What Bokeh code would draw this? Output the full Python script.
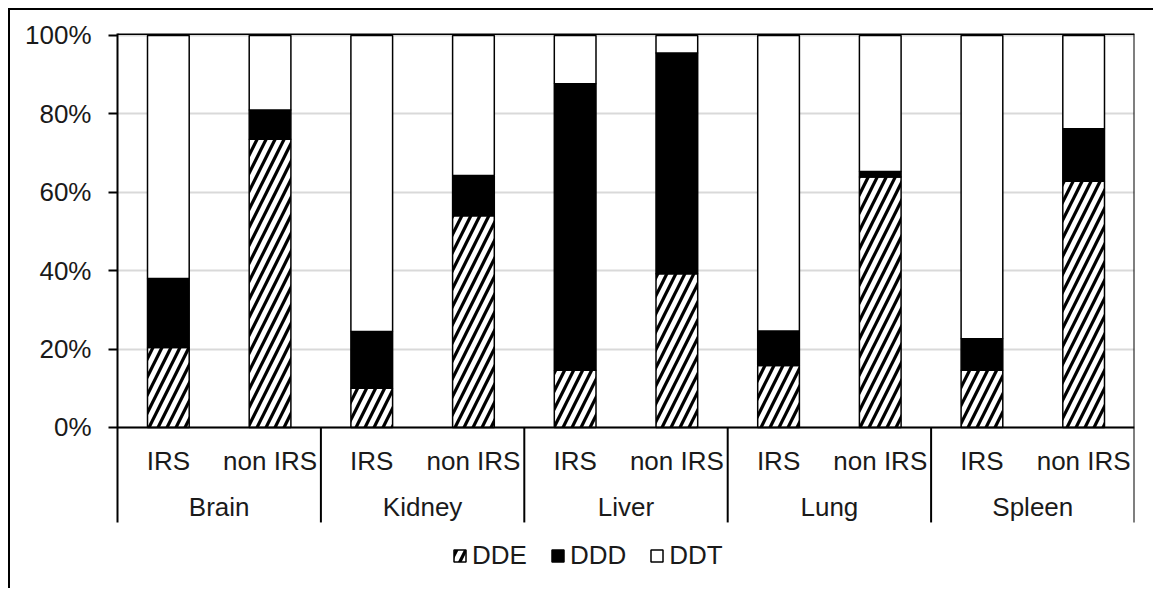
from bokeh.plotting import figure
from bokeh.models import (FactorRange, Range1d, FixedTicker, PrintfTickFormatter,
                          Span, Legend, LegendItem, ColumnDataSource)
from bokeh.core.properties import value
from bokeh.embed import file_html
from bokeh.resources import INLINE

# ---- data (percent of total) ----
organs = ["Brain", "Kidney", "Liver", "Lung", "Spleen"]
groups = ["IRS", "non IRS"]
DDE = [20.4, 73.5, 10.0, 54.0, 14.6, 39.2, 15.8, 63.9, 14.6, 62.8]
DDD = [17.6, 7.5, 14.5, 10.3, 73.1, 56.3, 8.8, 1.4, 8.0, 13.4]
DDT = [62.0, 19.0, 75.5, 35.7, 12.3, 4.5, 75.4, 34.7, 77.4, 23.8]
series = ["DDE", "DDD", "DDT"]
y_ticks = [0, 20, 40, 60, 80, 100]

factors = [(o, g) for o in organs for g in groups]
src = ColumnDataSource(dict(x=factors, DDE=DDE, DDD=DDD, DDT=DDT))

FONT = "Liberation Sans"
FS = "26px"
TXT = "#1a1a1a"

Y_TOP = 100.5
Y_AXIS_BOTTOM = -24.23   # bottom of the category-label band
Y_CANVAS_BOTTOM = -41.59  # bottom of the drawing area (legend band)

x_range = FactorRange(*factors, factor_padding=0, subgroup_padding=0,
                      group_padding=0, range_padding=0)
y_range = Range1d(Y_CANVAS_BOTTOM, Y_TOP)

p = figure(width=1145, height=580, x_range=x_range, y_range=y_range,
           output_backend="svg", toolbar_location=None,
           min_border_left=107, min_border_right=21,
           min_border_top=23, min_border_bottom=0)
p.styles = {"margin-left": "8px", "margin-top": "8px",
            "border-left": "2px solid black", "border-top": "2px solid black"}
p.outline_line_color = None
p.background_fill_color = "white"
p.border_fill_color = "white"

# axes
p.xaxis.visible = False
p.xgrid.visible = False
yax = p.yaxis[0]
yax.bounds = (Y_AXIS_BOTTOM, Y_TOP)
yax.ticker = FixedTicker(ticks=y_ticks)
yax.formatter = PrintfTickFormatter(format="%d%%")
yax.major_label_text_font = FONT
yax.major_label_text_font_size = FS
yax.major_label_text_color = TXT
yax.major_label_standoff = 17
yax.major_tick_out = 9
yax.major_tick_in = 0
yax.minor_tick_line_color = None
yax.axis_line_width = 2
yax.major_tick_line_width = 2
yax.axis_line_color = "black"
yax.major_tick_line_color = "black"
p.ygrid.ticker = FixedTicker(ticks=y_ticks)
p.ygrid.grid_line_color = "#d9d9d9"
p.ygrid.grid_line_width = 2

# bars
rs = p.vbar_stack(series, x="x", width=0.41, source=src,
                  fill_color=["white", "black", "white"],
                  line_color="black", line_width=1.5,
                  hatch_pattern=["/", " ", " "], hatch_color="black",
                  hatch_scale=18, hatch_weight=3.2)

# frame lines
p.add_layout(Span(location=0, dimension="width", line_color="black", line_width=2))
p.add_layout(Span(location=Y_TOP, dimension="width", line_color="black", line_width=3))
p.segment(x0=[10], x1=[10], y0=[Y_AXIS_BOTTOM], y1=[Y_TOP], line_color="black", line_width=2)

# category dividers below axis
n = len(organs)
p.segment(x0=[2 * i for i in range(1, n)], x1=[2 * i for i in range(1, n)],
          y0=[Y_AXIS_BOTTOM] * (n - 1), y1=[0] * (n - 1), line_color="black", line_width=2)

# category labels
p.text(x=factors, y=[-8.6] * len(factors), text=[g for (_, g) in factors],
       text_font=value(FONT), text_font_size=FS, text_color=TXT,
       text_align="center", text_baseline="middle")
p.text(x=organs, y=[-20.3] * len(organs), text=organs,
       text_font=value(FONT), text_font_size=FS, text_color=TXT,
       text_align="center", text_baseline="middle")

legend = Legend(items=[LegendItem(label=s, renderers=[r]) for s, r in zip(series, rs)],
                orientation="horizontal", location=(335, 19),
                glyph_width=15, glyph_height=15, label_standoff=5, spacing=23,
                padding=0, margin=0, border_line_color=None,
                label_text_font=FONT, label_text_font_size=FS,
                label_text_color=TXT, background_fill_alpha=0)
p.add_layout(legend)

open("out.html", "w").write(file_html(p, INLINE))
